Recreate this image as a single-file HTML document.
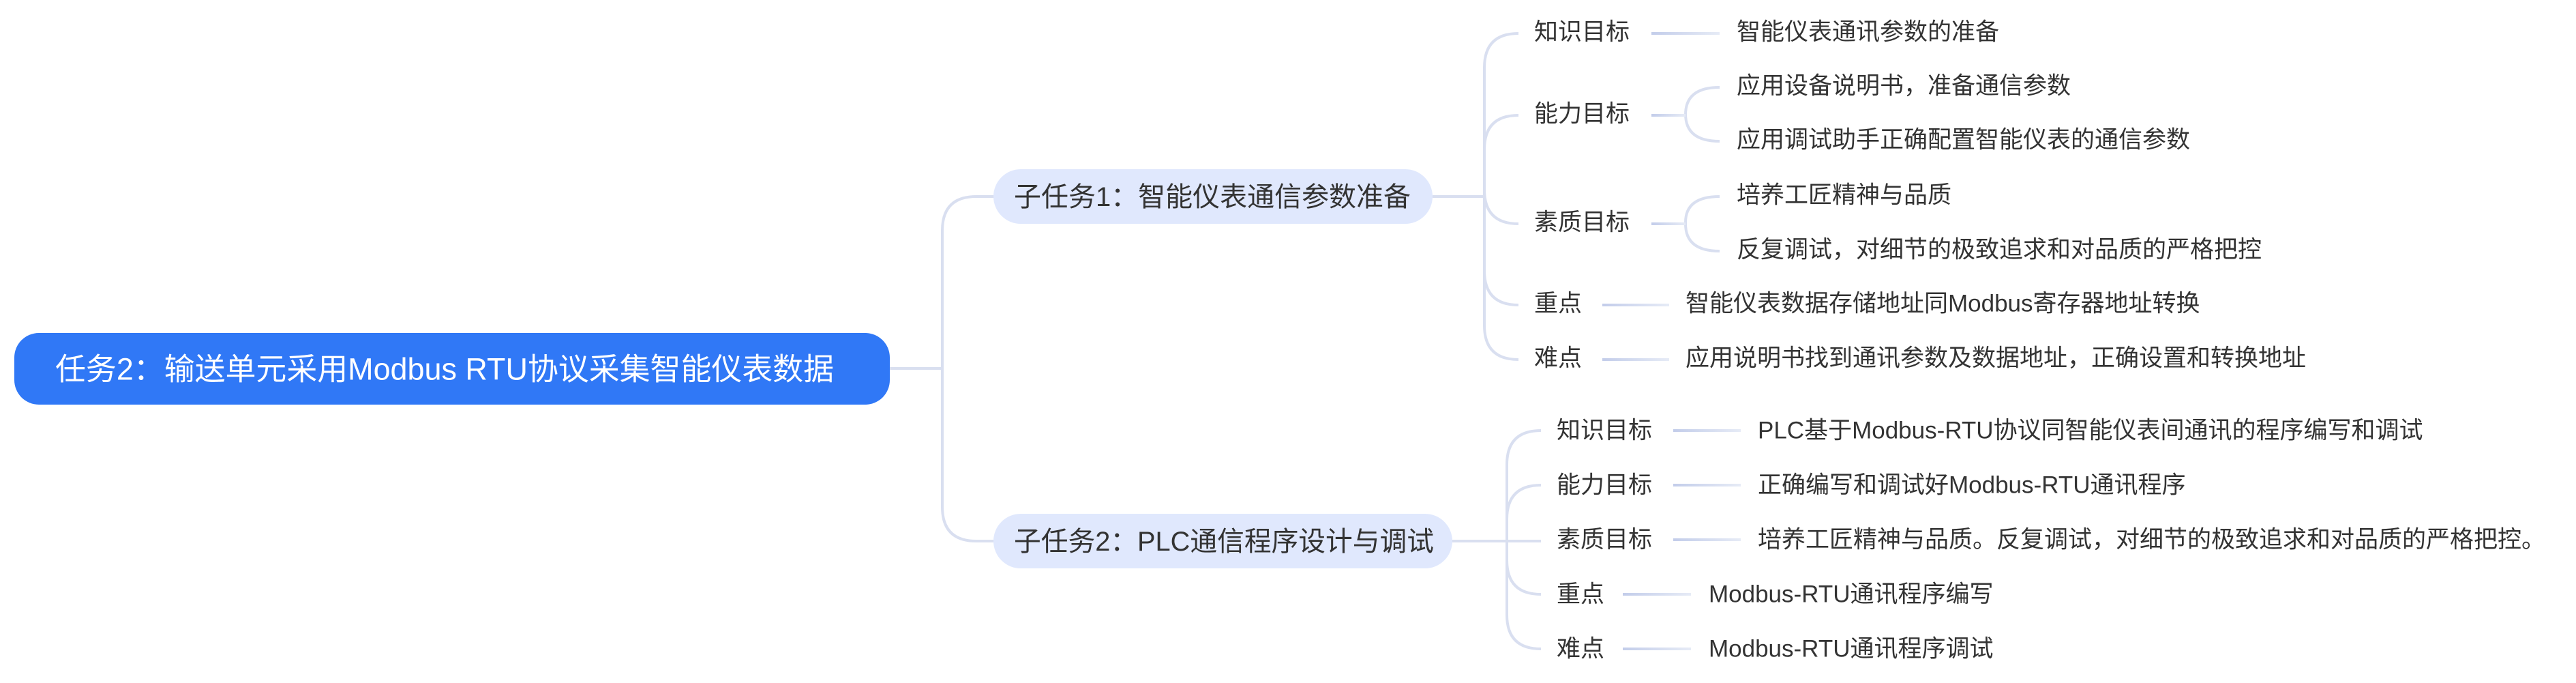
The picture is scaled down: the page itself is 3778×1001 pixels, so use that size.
<!DOCTYPE html>
<html><head><meta charset="utf-8"><style>
html,body{margin:0;padding:0;background:#fff;}
svg{display:block;}
text{font-family:"Liberation Sans","Noto Sans CJK SC",sans-serif;fill:#333;dominant-baseline:central;}
</style></head><body>
<svg width="3778" height="1001" viewBox="0 0 3778 1001" xmlns="http://www.w3.org/2000/svg">
<defs>
<linearGradient id="g" x1="0" x2="1" y1="0" y2="0"><stop offset="0" stop-color="#c3cdea"/><stop offset="1" stop-color="#e6ebf6"/></linearGradient>
</defs>
<g fill="none" stroke="#d9dff0" stroke-width="4">
<!-- root to subtasks -->
<path d="M1305 540 H1382"/>
<path d="M1382 540 V338 Q1382 288 1432 288 H1459"/>
<path d="M1382 540 V743 Q1382 793 1432 793 H1459"/>
<!-- subtask1 trunk -->
<path d="M2101 288 H2177"/>
<path d="M2177 288 V99 Q2177 49 2227 49"/>
<path d="M2177 288 V219 Q2177 169 2227 169"/>
<path d="M2177 288 V278 Q2177 328 2227 328"/>
<path d="M2177 288 V397 Q2177 447 2227 447"/>
<path d="M2177 288 V477 Q2177 527 2227 527"/>
<!-- 能力 leaves -->
<path d="M2472 169 V168 Q2472 128 2522 128"/>
<path d="M2472 169 V167 Q2472 207 2522 207"/>
<!-- 素质 leaves -->
<path d="M2472 328 V326 Q2472 288 2522 288"/>
<path d="M2472 328 V328 Q2472 368 2522 368"/>
<!-- subtask2 trunk -->
<path d="M2130 793 H2210"/>
<path d="M2210 793 V681 Q2210 631 2260 631"/>
<path d="M2210 793 V761 Q2210 711 2260 711"/>
<path d="M2210 793 V821 Q2210 871 2260 871"/>
<path d="M2210 793 V901 Q2210 951 2260 951"/>
<path d="M2210 793 H2260"/>
</g>
<g stroke="url(#g)" stroke-width="4">
<line x1="2422" y1="49" x2="2522" y2="49.01"/>
<line x1="2422" y1="169" x2="2472" y2="169.01"/>
<line x1="2422" y1="328" x2="2472" y2="328.01"/>
<line x1="2350" y1="447" x2="2448" y2="447.01"/>
<line x1="2350" y1="527" x2="2448" y2="527.01"/>
<line x1="2454" y1="631" x2="2553" y2="631.01"/>
<line x1="2454" y1="711" x2="2553" y2="711.01"/>
<line x1="2454" y1="791" x2="2553" y2="791.01"/>
<line x1="2380" y1="871" x2="2480" y2="871.01"/>
<line x1="2380" y1="951" x2="2480" y2="951.01"/>
</g>
<rect x="21" y="488" width="1284" height="105" rx="36" fill="#3078f6"/>
<text x="81" y="541" font-size="45" style="fill:#fff" textLength="1142" lengthAdjust="spacingAndGlyphs">任务2：输送单元采用Modbus RTU协议采集智能仪表数据</text>
<rect x="1457" y="248" width="644" height="80" rx="40" fill="#e0e8fd"/>
<text x="1487" y="289" font-size="40" textLength="582" lengthAdjust="spacingAndGlyphs">子任务1：智能仪表通信参数准备</text>
<rect x="1457" y="753" width="673" height="80" rx="40" fill="#e0e8fd"/>
<text x="1487" y="794" font-size="40" textLength="616" lengthAdjust="spacingAndGlyphs">子任务2：PLC通信程序设计与调试</text>
<g font-size="35">
<text x="2250" y="47">知识目标</text>
<text x="2250" y="167">能力目标</text>
<text x="2250" y="326">素质目标</text>
<text x="2250" y="445">重点</text>
<text x="2250" y="525">难点</text>
<text x="2547" y="47">智能仪表通讯参数的准备</text>
<text x="2547" y="126">应用设备说明书，准备通信参数</text>
<text x="2547" y="205">应用调试助手正确配置智能仪表的通信参数</text>
<text x="2547" y="286">培养工匠精神与品质</text>
<text x="2547" y="366">反复调试，对细节的极致追求和对品质的严格把控</text>
<text x="2472" y="445">智能仪表数据存储地址同Modbus寄存器地址转换</text>
<text x="2472" y="525">应用说明书找到通讯参数及数据地址，正确设置和转换地址</text>
<text x="2283" y="631">知识目标</text>
<text x="2283" y="711">能力目标</text>
<text x="2283" y="791">素质目标</text>
<text x="2283" y="871">重点</text>
<text x="2283" y="951">难点</text>
<text x="2578" y="631">PLC基于Modbus-RTU协议同智能仪表间通讯的程序编写和调试</text>
<text x="2578" y="711">正确编写和调试好Modbus-RTU通讯程序</text>
<text x="2578" y="791">培养工匠精神与品质。反复调试，对细节的极致追求和对品质的严格把控。</text>
<text x="2506" y="871">Modbus-RTU通讯程序编写</text>
<text x="2506" y="951">Modbus-RTU通讯程序调试</text>
</g>
</svg>
</body></html>
